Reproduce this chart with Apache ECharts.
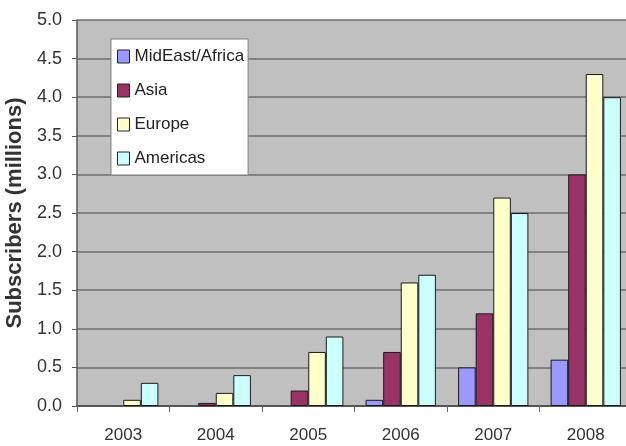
<!DOCTYPE html>
<html>
<head>
<meta charset="utf-8">
<script src="https://cdn.jsdelivr.net/npm/echarts@6/dist/echarts.min.js"></script>
<style>
  html, body { margin: 0; padding: 0; background: #ffffff; }
  #chart { width: 626px; height: 446px; }
</style>
</head>
<body>
<div id="chart"></div>
<script>
// Subscribers by region and year (millions)
const years = ['2003', '2004', '2005', '2006', '2007', '2008'];
const midEastAfrica = [0, 0, 0, 0.08, 0.5, 0.6];
const asia = [0, 0.04, 0.2, 0.7, 1.2, 3.0];
const europe = [0.08, 0.17, 0.7, 1.6, 2.7, 4.3];
const americas = [0.3, 0.4, 0.9, 1.7, 2.5, 4.0];
const yTicks = { min: 0, max: 5, step: 0.5 };

const seriesDefs = [
  { name: 'MidEast/Africa', data: midEastAfrica, color: '#9999ff' },
  { name: 'Asia', data: asia, color: '#993366' },
  { name: 'Europe', data: europe, color: '#ffffcc' },
  { name: 'Americas', data: americas, color: '#ccffff' }
];

const font = '"Liberation Sans", Arial, sans-serif';

// Zero-valued bars get no outline so they stay invisible
const toBarData = values => values.map(v => (
  v === 0 ? { value: v, itemStyle: { borderWidth: 0 } } : v
));

const chart = echarts.init(document.getElementById('chart'), null, { renderer: 'canvas' });
chart.setOption({
  animation: false,
  textStyle: { fontFamily: font },
  grid: {
    left: 77, width: 555, top: 20, bottom: 40,
    containLabel: false,
    outerBoundsMode: 'none',
    show: true, backgroundColor: '#c0c0c0', borderWidth: 0
  },
  legend: {
    orient: 'vertical',
    left: 111, top: 39,
    backgroundColor: '#ffffff',
    borderColor: '#808080',
    borderWidth: 1,
    padding: [9, 4, 8, 6],
    itemWidth: 12, itemHeight: 13,
    itemGap: 17,
    icon: 'rect',
    textStyle: { fontFamily: font, fontSize: 17, color: '#222222' },
    data: seriesDefs.map(s => ({ name: s.name, itemStyle: { color: s.color, borderColor: '#222222', borderWidth: 1 } }))
  },
  xAxis: {
    type: 'category',
    data: years,
    axisLine: { lineStyle: { color: '#444444', width: 1.5 } },
    axisTick: { show: true, length: 6, lineStyle: { color: '#666666' } },
    axisLabel: { fontFamily: font, fontSize: 17, color: '#333333', margin: 21 }
  },
  yAxis: {
    type: 'value',
    min: yTicks.min, max: yTicks.max, interval: yTicks.step,
    name: 'Subscribers (millions)',
    nameLocation: 'middle',
    nameGap: 48,
    nameTextStyle: { fontFamily: font, fontSize: 22, fontWeight: 'bold', color: '#333333' },
    axisLine: { show: true, lineStyle: { color: '#555555', width: 1.5 } },
    axisTick: { show: true, length: 5, lineStyle: { color: '#555555' } },
    axisLabel: {
      fontFamily: font, fontSize: 18, color: '#333333', margin: 15,
      formatter: v => v.toFixed(1)
    },
    splitLine: { show: true, lineStyle: { color: '#6e6e6e', width: 1.5 } }
  },
  series: seriesDefs.map(s => ({
    name: s.name,
    type: 'bar',
    data: toBarData(s.data),
    barGap: '0%',
    barCategoryGap: '24%',
    itemStyle: { color: s.color, borderColor: '#1a1a1a', borderWidth: 1 }
  }))
});
</script>
</body>
</html>
